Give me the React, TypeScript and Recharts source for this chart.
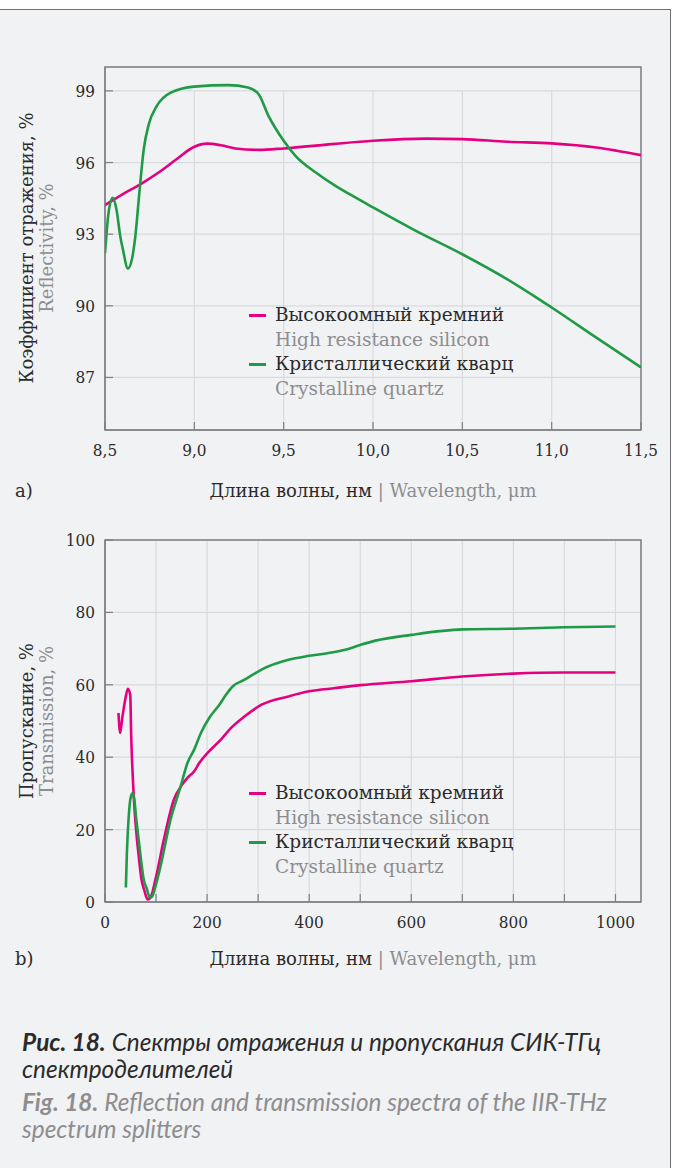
import React from 'react';
import { LineChart, Line, XAxis, YAxis, CartesianGrid, ReferenceLine, ReferenceArea, Legend } from 'recharts';

const SERIF = "'DejaVu Serif', serif";
const TICK_FONT = "'DejaVu Serif Condensed', 'DejaVu Serif', serif";
const CAPTION_FONT = "Lato, 'Noto Sans', sans-serif";
const PINK = '#e4007f';
const GREEN = '#1f9a46';
const AXIS = '#7d7e81';
const GRID = '#d9dadd';
const DARK = '#2b2b2b';
const GRAY = '#8d8d8f';
const BG = '#f1f2f4';

const seriesNamesRu = ['Высокоомный кремний', 'Кристаллический кварц'];
const seriesNamesEn = ['High resistance silicon', 'Crystalline quartz'];

// (a) reflectivity
const reflDomainX = [8.5, 11.5];
const reflDomainY = [84.8, 100];
const reflXTicks = [8.5, 9, 9.5, 10, 10.5, 11, 11.5];
const reflYTicks = [87, 90, 93, 96, 99];
const reflSiX = [8.5, 8.6, 8.7, 8.8, 8.9, 9.0, 9.07, 9.15, 9.23, 9.36, 9.5, 9.77, 10.0, 10.3, 10.5, 10.75, 11.0, 11.25, 11.5];
const reflSiY = [94.22, 94.68, 95.1, 95.58, 96.14, 96.66, 96.79, 96.72, 96.59, 96.53, 96.59, 96.77, 96.91, 97.0, 96.98, 96.87, 96.8, 96.63, 96.31];
const reflQzX = [8.5, 8.52, 8.543, 8.565, 8.585, 8.6, 8.628, 8.651, 8.67, 8.694, 8.717, 8.745, 8.79, 8.868, 9.0, 9.19, 9.3, 9.36, 9.415, 9.5, 9.566, 9.68, 9.79, 9.886, 10.0, 10.24, 10.5, 10.75, 10.9, 11.0, 11.25, 11.5];
const reflQzY = [92.2, 93.9, 94.52, 94.0, 92.93, 92.37, 91.56, 91.96, 92.93, 94.88, 96.56, 97.6, 98.37, 98.93, 99.18, 99.24, 99.14, 98.86, 97.95, 96.91, 96.28, 95.58, 95.02, 94.6, 94.12, 93.14, 92.16, 91.12, 90.42, 89.93, 88.67, 87.42];

// (b) transmission
const transDomainX = [0, 1050];
const transDomainY = [0, 100];
const transXTicks = [0, 100, 200, 300, 400, 500, 600, 700, 800, 900, 1000];
const transYTicks = [0, 20, 40, 60, 80, 100];
const transSiX = [26.4, 29.7, 34, 39.6, 44.8, 49.4, 51.4, 54, 57.4, 61.3, 65.9, 71.2, 77.1, 83.7, 89, 98.9, 115.4, 135, 151.5, 161.5, 174.7, 184.6, 201, 227.4, 247, 273.7, 306.6, 359.4, 400, 451, 500, 600, 700, 800, 900, 1000];
const transSiY = [52.2, 46.7, 51, 55.9, 58.9, 57.3, 45.5, 35.9, 26.7, 19.4, 12.9, 6.5, 3.2, 0.7, 1.2, 6.25, 17.3, 28.3, 32.5, 34.3, 36.1, 38.4, 41.2, 44.9, 48.1, 51.3, 54.5, 56.8, 58.2, 59.1, 59.9, 61, 62.3, 63.1, 63.4, 63.4];
const transQzX = [40.9, 42.9, 46.1, 50.8, 54.1, 57.4, 61.3, 65.9, 71.2, 75.8, 82.4, 87.7, 92.3, 98.9, 108.8, 128.5, 148.3, 161.5, 174.7, 187.9, 204.4, 224.1, 237.3, 250.5, 273.6, 306.6, 359.4, 400, 438, 471, 500, 530, 600, 700, 800, 900, 1000];
const transQzY = [4.0, 13.6, 22.8, 29.2, 30.0, 28.3, 22.8, 17.3, 10.9, 6.25, 3.5, 1.2, 1.5, 4.4, 9.9, 22.8, 32, 38.4, 42.1, 46.7, 50.9, 54.5, 57.3, 59.6, 61.4, 64.2, 66.9, 68.0, 68.8, 69.7, 71.0, 72.2, 73.8, 75.3, 75.5, 75.9, 76.1];

const toPoints = (xs: number[], ys: number[]) => xs.map((x, i) => ({ x, y: ys[i] }));
const reflSi = toPoints(reflSiX, reflSiY);
const reflQz = toPoints(reflQzX, reflQzY);
const transSi = toPoints(transSiX, transSiY);
const transQz = toPoints(transQzX, transQzY);

const TICK_MARGIN = 10;
const TICK_LEN = 8;

const makeXTick = (fmt: (v: number) => string, show: (v: number) => boolean) => (props: any) => {
  const { x, y, payload } = props;
  const axisY = y - TICK_MARGIN;
  return (
    <g>
      <line x1={x} x2={x} y1={axisY} y2={axisY - TICK_LEN} stroke={AXIS} strokeWidth={1.2} />
      {show(payload.value) && (
        <text x={x} y={y} dy={16} textAnchor="middle" fill={DARK} fontSize={17} fontFamily={TICK_FONT}>
          {fmt(payload.value)}
        </text>
      )}
    </g>
  );
};

const YTick = (props: any) => {
  const { x, y, payload } = props;
  const axisX = x + TICK_MARGIN;
  return (
    <g>
      <line x1={axisX} x2={axisX + TICK_LEN} y1={y} y2={y} stroke={AXIS} strokeWidth={1.2} />
      <text x={x} y={y} dy={6} textAnchor="end" fill={DARK} fontSize={17} fontFamily={TICK_FONT}>
        {payload.value}
      </text>
    </g>
  );
};

const commaFmt = (v: number) => v.toFixed(1).replace('.', ',');
const ReflXTick = makeXTick(commaFmt, () => true);
const TransXTick = makeXTick((v) => String(v), (v) => v % 200 === 0);

const LegendBox = () => (
  <div style={{ fontFamily: SERIF, fontSize: 18.5, lineHeight: '24.5px' }}>
    {[PINK, GREEN].map((c, i) => (
      <div key={i}>
        <div style={{ display: 'flex', alignItems: 'center', color: DARK }}>
          <span style={{ display: 'inline-block', width: 17, height: 3, background: c, marginRight: 9 }} />
          {seriesNamesRu[i]}
        </div>
        <div style={{ color: GRAY, paddingLeft: 26 }}>{seriesNamesEn[i]}</div>
      </div>
    ))}
  </div>
);

const xTitle = (
  <>
    <span style={{ color: DARK }}>Длина волны, нм</span>
    <span style={{ color: GRAY }}> | Wavelength, μm</span>
  </>
);

const abs = (left: number, top: number, extra: React.CSSProperties = {}): React.CSSProperties => ({
  position: 'absolute', left, top, ...extra,
});

const RotTitle = ({ cx, cy, text, color }: { cx: number; cy: number; text: string; color: string }) => (
  <div style={abs(cx, cy, {
    transform: 'translate(-50%, -50%) rotate(-90deg)', whiteSpace: 'nowrap',
    fontFamily: SERIF, fontSize: 18, color, lineHeight: '20px',
  })}>{text}</div>
);

export default function App() {
  return (
    <div style={{ position: 'absolute', left: 0, top: 0, width: 674, height: 1168, background: '#ffffff', overflow: 'hidden' }}>
      <div style={abs(0, 9, { width: 670, height: 1170, background: BG, borderTop: '1.5px solid #707173', borderRight: '1.5px solid #707173' })} />

      {/* Chart a */}
      <div style={abs(0, 0)}>
        <LineChart width={674} height={520} margin={{ top: 67, right: 33, bottom: 60, left: 45 }}>
          <CartesianGrid vertical={false} stroke={GRID} strokeWidth={1.2} />
          {reflXTicks.slice(1, -1).map((t) => (
            <ReferenceLine key={t} segment={[{ x: t, y: reflDomainY[0] }, { x: t, y: reflYTicks[reflYTicks.length - 1] }]} stroke={GRID} strokeWidth={1.2} />
          ))}
          <XAxis dataKey="x" type="number" domain={reflDomainX} ticks={reflXTicks} allowDataOverflow
            height={30} tickSize={0} tickMargin={TICK_MARGIN} tick={ReflXTick} axisLine={{ stroke: AXIS }} interval={0} />
          <YAxis type="number" domain={reflDomainY} ticks={reflYTicks} allowDataOverflow
            width={60} tickSize={0} tickMargin={TICK_MARGIN} tick={YTick} axisLine={{ stroke: AXIS }} interval={0} />
          <ReferenceArea x1={reflDomainX[0]} x2={reflDomainX[1]} y1={reflDomainY[0]} y2={reflDomainY[1]} fill="none" fillOpacity={0} stroke={AXIS} strokeWidth={1.5} />
          <Line data={reflSi} dataKey="y" name={seriesNamesRu[0]} type="monotone" stroke={PINK} strokeWidth={2.6} dot={false} isAnimationActive={false} />
          <Line data={reflQz} dataKey="y" name={seriesNamesRu[1]} type="monotone" stroke={GREEN} strokeWidth={2.6} dot={false} isAnimationActive={false} />
          <Legend layout="vertical" align="center" verticalAlign="middle" content={<LegendBox />}
            wrapperStyle={{ left: 249, top: 303, width: 300 }} />
        </LineChart>
      </div>
      <RotTitle cx={27} cy={248} text="Коэффициент отражения, %" color={DARK} />
      <RotTitle cx={47} cy={248} text="Reflectivity, %" color={GRAY} />
      <div style={abs(15, 480, { fontFamily: SERIF, fontSize: 18, color: DARK })}>a)</div>
      <div style={abs(373, 480, { transform: 'translateX(-50%)', whiteSpace: 'nowrap', fontFamily: SERIF, fontSize: 18 })}>{xTitle}</div>

      {/* Chart b */}
      <div style={abs(0, 470)}>
        <LineChart width={674} height={520} margin={{ top: 70, right: 33, bottom: 58, left: 45 }}>
          <CartesianGrid stroke={GRID} strokeWidth={1.2} />
          <XAxis dataKey="x" type="number" domain={transDomainX} ticks={transXTicks} allowDataOverflow
            height={30} tickSize={0} tickMargin={TICK_MARGIN} tick={TransXTick} axisLine={{ stroke: AXIS }} interval={0} />
          <YAxis type="number" domain={transDomainY} ticks={transYTicks} allowDataOverflow
            width={60} tickSize={0} tickMargin={TICK_MARGIN} tick={YTick} axisLine={{ stroke: AXIS }} interval={0} />
          <ReferenceArea x1={transDomainX[0]} x2={transDomainX[1]} y1={transDomainY[0]} y2={transDomainY[1]} fill="none" fillOpacity={0} stroke={AXIS} strokeWidth={1.5} />
          <Line data={transSi} dataKey="y" name={seriesNamesRu[0]} type="monotone" stroke={PINK} strokeWidth={2.6} dot={false} isAnimationActive={false} />
          <Line data={transQz} dataKey="y" name={seriesNamesRu[1]} type="monotone" stroke={GREEN} strokeWidth={2.6} dot={false} isAnimationActive={false} />
          <Legend layout="vertical" align="center" verticalAlign="middle" content={<LegendBox />}
            wrapperStyle={{ left: 249, top: 311, width: 300 }} />
        </LineChart>
      </div>
      <RotTitle cx={27} cy={721} text="Пропускание, %" color={DARK} />
      <RotTitle cx={47} cy={721} text="Transmission, %" color={GRAY} />
      <div style={abs(15, 948, { fontFamily: SERIF, fontSize: 18, color: DARK })}>b)</div>
      <div style={abs(373, 948, { transform: 'translateX(-50%)', whiteSpace: 'nowrap', fontFamily: SERIF, fontSize: 18 })}>{xTitle}</div>

      {/* Caption */}
      <div style={abs(22, 1028, { width: 650, whiteSpace: 'nowrap', fontFamily: CAPTION_FONT, fontStyle: 'italic', fontSize: 24.4, lineHeight: '27px' })}>
        <div style={{ color: DARK }}>
          <b style={{ marginRight: 6 }}>Рис. 18.</b>Спектры отражения и пропускания СИК-ТГц<br />спектроделителей
        </div>
        <div style={{ color: GRAY, marginTop: 6 }}>
          <b style={{ marginRight: 6 }}>Fig. 18.</b>Reflection and transmission spectra of the IIR-THz<br />spectrum splitters
        </div>
      </div>
    </div>
  );
}
